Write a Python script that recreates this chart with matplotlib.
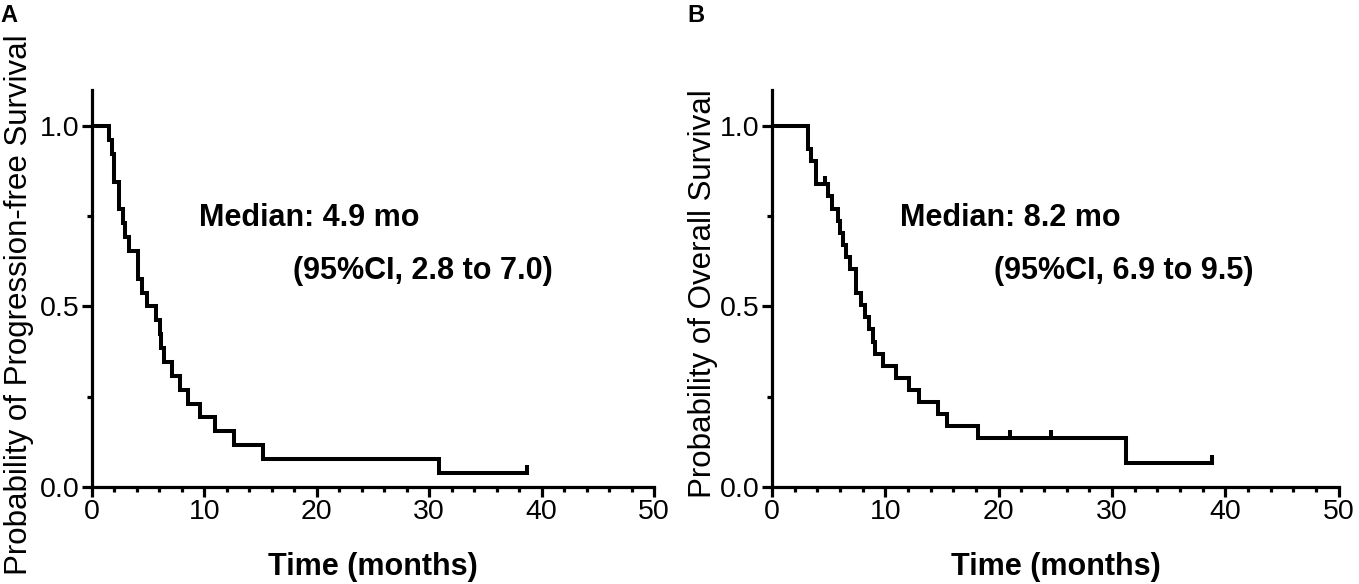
import numpy as np
import matplotlib
matplotlib.use("Agg")
import matplotlib.pyplot as plt
from matplotlib.ticker import MultipleLocator, FormatStrFormatter

plt.rcParams['font.family'] = ['Liberation Sans', 'DejaVu Sans']

## data (months)
pfs_events = [1.57, 1.80, 2.01, 2.01, 2.46, 2.46, 2.75, 2.96, 3.34, 4.09, 4.09,
              4.5, 4.9, 5.72, 6.07, 6.2, 6.45, 7.11, 7.85, 8.55, 9.6, 10.93,
              12.68, 15.26, 30.87]
pfs_censored = [38.67]

os_events = [3.19, 3.19, 3.48, 3.92, 3.92, 4.94, 5.29, 5.82, 5.96, 6.26, 6.55,
             6.84, 7.43, 7.43, 7.87, 8.16, 8.54, 8.89, 9.04, 9.82, 10.94, 12.1,
             12.98, 14.6, 15.47, 18.2, 31.2]
os_censored = [4.65, 21.0, 24.6, 38.8]

pfs_text = ["Median: 4.9 mo", "(95%CI, 2.8 to 7.0)"]
os_text = ["Median: 8.2 mo", "(95%CI, 6.9 to 9.5)"]
ylabels = ["Probability of Progression-free Survival", "Probability of Overall Survival"]
panel_tags = ["A", "B"]


def kaplan_meier(events, censored):
    times = sorted(set(events) | set(censored))
    n_risk = len(events) + len(censored)
    s = 1.0
    xs, ys = [0.0], [1.0]
    cens_pts = []
    for t in times:
        d = events.count(t)
        c = censored.count(t)
        if d > 0:
            xs.append(t)
            ys.append(s)
            s = s * (n_risk - d) / n_risk
            xs.append(t)
            ys.append(s)
        if c > 0:
            cens_pts.append((t, s))
        n_risk -= d + c
    last = max(times)
    xs.append(last)
    ys.append(s)
    return np.array(xs), np.array(ys), cens_pts


fig = plt.figure(figsize=(13.59, 5.84), dpi=100)
ax1 = fig.add_axes([0.0675, 0.1666, 0.4138, 0.679])
ax2 = fig.add_axes([0.5681, 0.1666, 0.4170, 0.679])

lw = 2.9
panels = [(ax1, pfs_events, pfs_censored, pfs_text, ylabels[0], (9.5, 17.9), (-0.130, 0.458)),
          (ax2, os_events, os_censored, os_text, ylabels[1], (11.3, 19.6), (-0.122, 0.486))]
for ax, ev, ce, txt, yl, tx, ylab_pos in panels:
    x, y, cens = kaplan_meier(ev, ce)
    ax.plot(x, y, color="black", lw=lw, solid_joinstyle="miter")
    for t, s in cens:
        ax.vlines(t, s, s + 0.022, color="black", lw=lw)

    ax.set_xlim(0, 50)
    ax.set_ylim(0, 1.1)
    ax.xaxis.set_major_locator(MultipleLocator(10))
    ax.xaxis.set_minor_locator(MultipleLocator(2))
    ax.yaxis.set_major_locator(MultipleLocator(0.5))
    ax.yaxis.set_minor_locator(MultipleLocator(0.25))
    ax.yaxis.set_major_formatter(FormatStrFormatter("%.1f"))
    ax.spines["top"].set_visible(False)
    ax.spines["right"].set_visible(False)
    for sp in ["left", "bottom"]:
        ax.spines[sp].set_linewidth(2.3)
    ax.tick_params(which="major", direction="out", length=7, width=2.3, labelsize=20.5, pad=2)
    ax.tick_params(which="minor", direction="out", length=3.8, width=2.3)

    ax.set_xlabel("Time (months)", fontsize=22, fontweight="bold", labelpad=19)
    ax.set_ylabel(yl, fontsize=22.5, va="center")
    ax.yaxis.set_label_coords(*ylab_pos)

    ax.text(tx[0], 0.723, txt[0], fontsize=22, fontweight="bold", va="baseline")
    ax.text(tx[1], 0.576, txt[1], fontsize=22, fontweight="bold", va="baseline")

fig.text(0.0, 0.993, panel_tags[0], fontsize=17, fontweight="bold", va="top", ha="left")
fig.text(0.506, 0.993, panel_tags[1], fontsize=17, fontweight="bold", va="top", ha="left")

fig.savefig("out.png", dpi=100)
